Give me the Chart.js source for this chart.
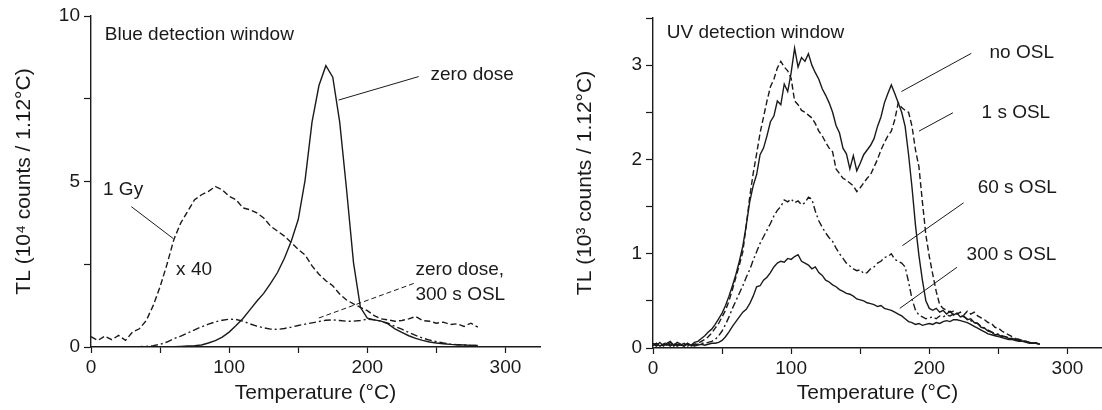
<!DOCTYPE html>
<html>
<head>
<meta charset="utf-8">
<title>TL glow curves</title>
<script src="https://cdn.jsdelivr.net/npm/chart.js@4.4.1/dist/chart.umd.min.js"></script>
<style>
  html, body { margin: 0; padding: 0; background: #fff; }
  #wrap { display: flex; width: 1102px; height: 410px; }
  canvas { display: block; }
</style>
</head>
<body>
<div id="wrap">
  <canvas id="blue" width="551" height="410" style="width:551px;height:410px"></canvas>
  <canvas id="uv" width="551" height="410" style="width:551px;height:410px"></canvas>
</div>
<script>
// temperature grids (deg C)
const blueTemps = Array.from({ length: 57 }, (_, i) => i * 5);
const uvTemps = Array.from({ length: 113 }, (_, i) => i * 2.5);

// Blue window, 10^4 counts
const zeroDose = [
  0, 0, 0, 0, 0, 0, 0, 0, 0, 0, 0, 0,
  0.01, 0.02, 0.03, 0.04, 0.06, 0.12, 0.19, 0.30, 0.45, 0.65, 0.86, 1.12,
  1.38, 1.62, 1.92, 2.25, 2.68, 3.20, 3.85, 5.05, 6.80, 7.90, 8.50, 8.15,
  6.80, 4.75, 2.55, 1.20, 0.87, 0.82, 0.78, 0.70, 0.55, 0.44, 0.34, 0.26,
  0.20, 0.15, 0.12, 0.10, 0.08, 0.07, 0.06, 0.05, 0.05
];
const oneGyX40 = [
  0.31, 0.20, 0.33, 0.22, 0.35, 0.20, 0.45, 0.55, 0.80, 1.25, 1.82, 2.50,
  3.25, 3.75, 4.10, 4.45, 4.60, 4.70, 4.85, 4.75, 4.55, 4.45, 4.20, 4.15,
  4.05, 3.90, 3.65, 3.50, 3.35, 3.15, 2.95, 2.78, 2.45, 2.20, 2.00, 1.85,
  1.60, 1.42, 1.30, 1.20, 1.10, 0.95, 0.85, 0.82, 0.78, 0.80, 0.85, 0.92,
  0.80, 0.78, 0.72, 0.75, 0.68, 0.70, 0.62, 0.72, 0.60
];
const zeroDoseOsl300 = [
  0, 0, 0, 0, 0, 0, 0, 0.01, 0.02, 0.04, 0.08, 0.15,
  0.25, 0.33, 0.42, 0.52, 0.61, 0.69, 0.76, 0.81, 0.84, 0.83, 0.78, 0.70,
  0.63, 0.58, 0.54, 0.53, 0.56, 0.60, 0.65, 0.69, 0.73, 0.77, 0.81, 0.82,
  0.80, 0.78, 0.78, 0.80, 0.84, 0.82, 0.78, 0.72, 0.62, 0.54, 0.44, 0.35,
  0.27, 0.21, 0.16, 0.12, 0.09, 0.07, 0.06, 0.05, 0.05
];

// UV window, 10^3 counts (one row = 20 deg C)
const noOsl = [
  0.05, 0.03, 0.06, 0.02, 0.05, 0.07, 0.03, 0.06,
  0.04, 0.02, 0.05, 0.03, 0.06, 0.07, 0.10, 0.13,
  0.17, 0.20, 0.25, 0.31, 0.37, 0.45, 0.55, 0.66,
  0.78, 0.92, 1.08, 1.30, 1.55, 1.72, 1.84, 2.05,
  2.12, 2.25, 2.40, 2.46, 2.62, 2.58, 2.80, 2.72,
  2.92, 3.18, 2.98, 3.08, 3.04, 3.12, 3.00, 2.92,
  2.85, 2.75, 2.68, 2.60, 2.50, 2.36, 2.28, 2.12,
  2.06, 1.90, 2.04, 1.88, 1.96, 2.05, 2.10, 2.15,
  2.22, 2.35, 2.45, 2.60, 2.70, 2.79, 2.70, 2.60,
  2.50, 2.35, 2.05, 1.70, 1.30, 0.98, 0.72, 0.50,
  0.42, 0.40, 0.42, 0.38, 0.40, 0.36, 0.39, 0.35,
  0.37, 0.33, 0.34, 0.30, 0.31, 0.27, 0.26, 0.22,
  0.21, 0.18, 0.17, 0.14, 0.14, 0.12, 0.12, 0.10,
  0.10, 0.09, 0.08, 0.07, 0.07, 0.06, 0.05, 0.05,
  0.04
];
const osl1s = [
  0.03, 0.05, 0.02, 0.04, 0.06, 0.03, 0.05, 0.02,
  0.04, 0.03, 0.05, 0.02, 0.04, 0.05, 0.07, 0.09,
  0.12, 0.16, 0.21, 0.26, 0.33, 0.40, 0.50, 0.62,
  0.75, 0.88, 1.02, 1.30, 1.60, 1.85, 2.06, 2.28,
  2.45, 2.62, 2.77, 2.85, 2.97, 3.04, 2.98, 2.94,
  2.86, 2.62, 2.58, 2.52, 2.50, 2.47, 2.44, 2.38,
  2.30, 2.25, 2.18, 2.12, 2.08, 1.90, 1.85, 1.80,
  1.78, 1.75, 1.72, 1.66, 1.70, 1.75, 1.80, 1.84,
  1.92, 2.00, 2.10, 2.18, 2.25, 2.30, 2.42, 2.60,
  2.55, 2.52, 2.50, 2.35, 2.10, 1.92, 1.55, 1.20,
  0.97, 0.78, 0.60, 0.46, 0.42, 0.40, 0.38, 0.39,
  0.36, 0.38, 0.35, 0.39, 0.36, 0.38, 0.34, 0.32,
  0.30, 0.27, 0.26, 0.22, 0.21, 0.18, 0.16, 0.14,
  0.12, 0.10, 0.09, 0.08, 0.07, 0.06, 0.05, 0.05,
  0.04
];
const osl60s = [
  0.04, 0.02, 0.05, 0.03, 0.04, 0.02, 0.05, 0.03,
  0.03, 0.05, 0.02, 0.04, 0.03, 0.04, 0.05, 0.05,
  0.06, 0.07, 0.09, 0.13, 0.18, 0.25, 0.33, 0.42,
  0.50, 0.58, 0.66, 0.75, 0.83, 0.93, 1.02, 1.11,
  1.18, 1.25, 1.32, 1.40, 1.46, 1.50, 1.57, 1.55,
  1.58, 1.54, 1.56, 1.52, 1.54, 1.60, 1.58, 1.45,
  1.35, 1.28, 1.22, 1.17, 1.13, 1.06, 1.00, 0.95,
  0.90, 0.87, 0.84, 0.82, 0.83, 0.79, 0.80, 0.84,
  0.86, 0.90, 0.92, 0.96, 0.97, 1.00, 0.94, 0.92,
  0.90, 0.86, 0.70, 0.52, 0.40, 0.35, 0.33, 0.31,
  0.32, 0.33, 0.31, 0.34, 0.33, 0.35, 0.34, 0.36,
  0.37, 0.35, 0.33, 0.31, 0.29, 0.27, 0.26, 0.23,
  0.21, 0.19, 0.17, 0.15, 0.15, 0.13, 0.12, 0.11,
  0.10, 0.09, 0.09, 0.08, 0.07, 0.06, 0.05, 0.05,
  0.04
];
const osl300s = [
  0.03, 0.05, 0.02, 0.04, 0.03, 0.06, 0.02, 0.04,
  0.03, 0.02, 0.04, 0.03, 0.02, 0.03, 0.04, 0.03,
  0.04, 0.05, 0.05, 0.06, 0.08, 0.12, 0.17, 0.23,
  0.28, 0.33, 0.38, 0.41, 0.47, 0.55, 0.65, 0.66,
  0.72, 0.75, 0.80, 0.86, 0.90, 0.92, 0.91, 0.95,
  0.94, 0.97, 0.99, 0.92, 0.90, 0.88, 0.84, 0.86,
  0.80, 0.77, 0.72, 0.70, 0.67, 0.65, 0.62, 0.60,
  0.58, 0.57, 0.55, 0.52, 0.51, 0.50, 0.48, 0.47,
  0.46, 0.44, 0.45, 0.42, 0.41, 0.40, 0.38, 0.36,
  0.34, 0.31, 0.28, 0.27, 0.25, 0.26, 0.24, 0.25,
  0.26, 0.25, 0.27, 0.26, 0.28, 0.29, 0.28, 0.30,
  0.30, 0.29, 0.28, 0.27, 0.25, 0.23, 0.21, 0.19,
  0.17, 0.15, 0.14, 0.13, 0.12, 0.11, 0.10, 0.09,
  0.09, 0.08, 0.07, 0.07, 0.06, 0.05, 0.05, 0.05,
  0.04
];

const INK = '#1a1a1a';
const FONT = '"Liberation Sans", Arial, sans-serif';
const SOLID = [];
const DASH = [6, 3];
const DASHDOT = [7, 3, 2, 3];

// labels and leader lines, in data units
const notesPlugin = {
  id: 'notes',
  afterDatasetsDraw(chart, args, opts) {
    const { ctx, scales: { x, y } } = chart;
    ctx.save();
    ctx.strokeStyle = INK;
    ctx.lineWidth = 1;
    (opts.leaders || []).forEach(l => {
      ctx.setLineDash(l.dash || []);
      ctx.beginPath();
      ctx.moveTo(x.getPixelForValue(l.from[0]), y.getPixelForValue(l.from[1]));
      ctx.lineTo(x.getPixelForValue(l.to[0]), y.getPixelForValue(l.to[1]));
      ctx.stroke();
    });
    ctx.setLineDash([]);
    ctx.fillStyle = INK;
    ctx.font = '19px ' + FONT;
    ctx.textAlign = 'left';
    ctx.textBaseline = 'middle';
    (opts.labels || []).forEach(t => {
      ctx.fillText(t.text, x.getPixelForValue(t.at[0]), y.getPixelForValue(t.at[1]));
    });
    ctx.restore();
  }
};

function series(temps, values, dash) {
  return {
    data: temps.map((t, i) => ({ x: t, y: values[i] })),
    borderColor: INK,
    borderWidth: 1.4,
    borderDash: dash,
    pointRadius: 0,
    tension: 0,
    fill: false
  };
}

function makeChart(id, cfg) {
  return new Chart(document.getElementById(id), {
    type: 'line',
    data: { datasets: cfg.datasets },
    plugins: [notesPlugin],
    options: {
      responsive: false,
      animation: false,
      layout: { padding: { top: cfg.top, right: cfg.right, left: 0, bottom: 0 } },
      plugins: {
        legend: { display: false },
        tooltip: { enabled: false },
        notes: { labels: cfg.labels, leaders: cfg.leaders }
      },
      scales: {
        x: {
          type: 'linear',
          min: 0,
          max: 325,
          afterFit: s => { s.height = cfg.xHeight; },
          border: { color: INK, width: 1.4 },
          grid: { drawOnChartArea: false, tickLength: 6, color: INK, tickWidth: 1.2 },
          ticks: {
            stepSize: 50,
            includeBounds: false,
            autoSkip: false,
            maxRotation: 0,
            padding: 3,
            color: INK,
            font: { family: FONT, size: 19 },
            callback: v => (v % 100 === 0 ? v : '')
          },
          title: {
            display: true,
            text: 'Temperature (°C)',
            color: INK,
            font: { family: FONT, size: 21 },
            padding: { top: 0, bottom: 4 }
          }
        },
        y: {
          min: 0,
          max: cfg.yMax,
          afterFit: s => { s.width = cfg.yWidth; },
          border: { color: INK, width: 1.4 },
          grid: { drawOnChartArea: false, tickLength: 7, color: INK, tickWidth: 1.2 },
          ticks: {
            stepSize: cfg.yStep,
            includeBounds: false,
            autoSkip: false,
            padding: 4,
            color: INK,
            font: { family: FONT, size: 19 },
            callback: cfg.yLabel
          },
          title: {
            display: true,
            text: cfg.yTitle,
            color: INK,
            font: { family: FONT, size: 21 },
            padding: { top: cfg.yTitlePad, bottom: 0 }
          }
        }
      }
    }
  });
}

makeChart('blue', {
  top: 16, right: 11, xHeight: 63, yWidth: 91, yTitlePad: 12,
  yMax: 10, yStep: 2.5,
  yLabel: v => (v % 5 === 0 ? v : ''),
  yTitle: 'TL (10⁴ counts / 1.12°C)',
  datasets: [
    series(blueTemps, zeroDose, SOLID),
    series(blueTemps, oneGyX40, DASH),
    series(blueTemps, zeroDoseOsl300, DASHDOT)
  ],
  labels: [
    { text: 'Blue detection window', at: [10, 9.43] },
    { text: 'zero dose', at: [245.7, 8.22] },
    { text: '1 Gy', at: [8.7, 4.74] },
    { text: 'x 40', at: [61.6, 2.33] },
    { text: 'zero dose,', at: [234.8, 2.33] },
    { text: '300 s OSL', at: [234.8, 1.57] }
  ],
  leaders: [
    { from: [237.2, 8.17], to: [179.2, 7.46] },
    { from: [29.2, 4.24], to: [59.4, 3.28] },
    { from: [233.6, 1.92], to: [164.5, 0.87], dash: [5, 3] }
  ]
});

makeChart('uv', {
  top: 18, right: 0, xHeight: 62, yWidth: 102, yTitlePad: 22,
  yMax: 3.5, yStep: 0.5,
  yLabel: v => (Number.isInteger(v) ? v : ''),
  yTitle: 'TL (10³ counts / 1.12°C)',
  datasets: [
    series(uvTemps, noOsl, SOLID),
    series(uvTemps, osl1s, DASH),
    series(uvTemps, osl60s, DASHDOT),
    series(uvTemps, osl300s, SOLID)
  ],
  labels: [
    { text: 'UV detection window', at: [10, 3.34] },
    { text: 'no OSL', at: [243.6, 3.13] },
    { text: '1 s OSL', at: [237.8, 2.49] },
    { text: '60 s OSL', at: [235, 1.70] },
    { text: '300 s OSL', at: [227, 0.99] }
  ],
  leaders: [
    { from: [230.4, 3.125], to: [179.8, 2.72] },
    { from: [217.1, 2.495], to: [192.5, 2.30] },
    { from: [224.8, 1.54], to: [180.5, 1.085] },
    { from: [220, 0.856], to: [178.6, 0.42] }
  ]
});
</script>
</body>
</html>
